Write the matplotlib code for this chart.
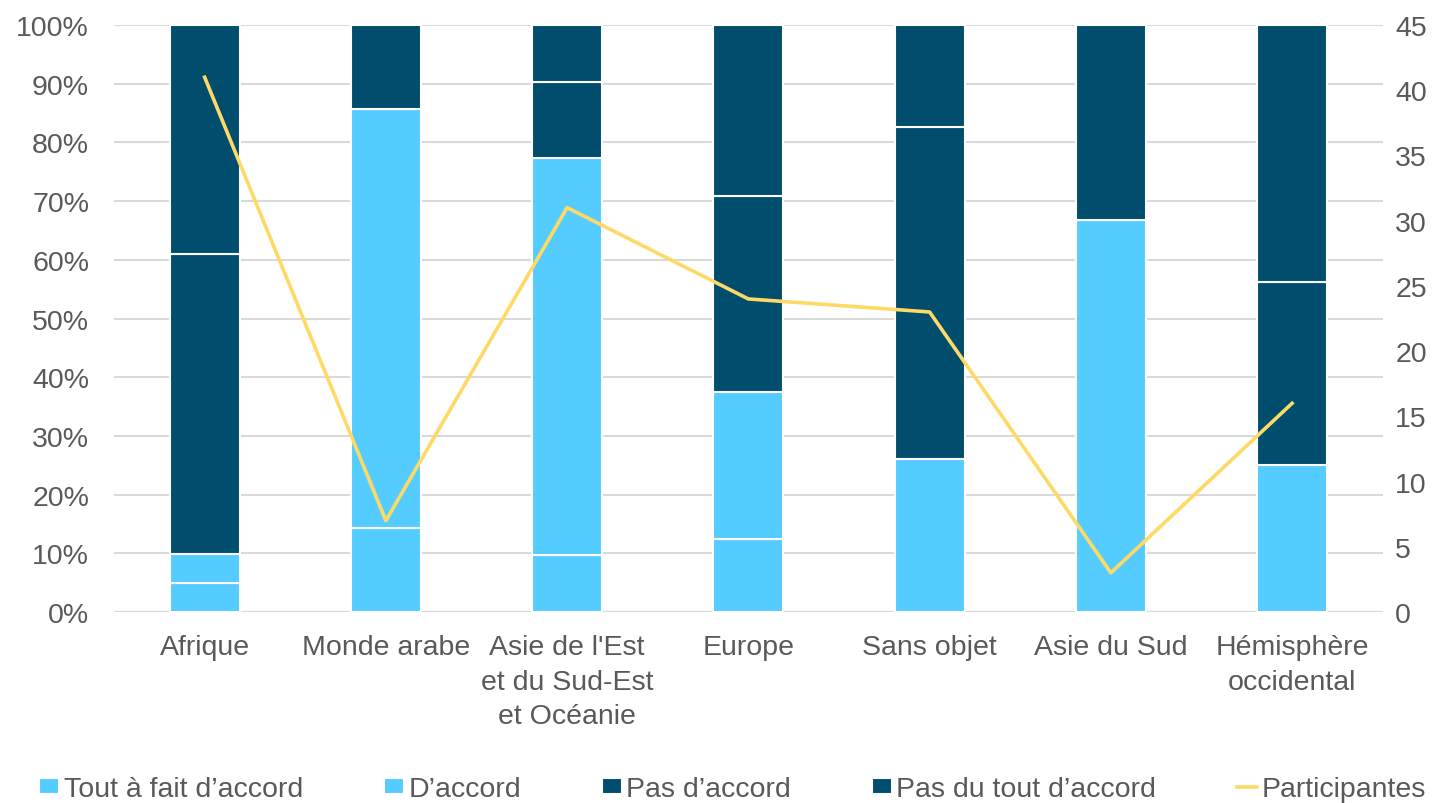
import numpy as np
import matplotlib.pyplot as plt
from matplotlib.ticker import FuncFormatter, MultipleLocator

plt.rcParams['font.family'] = ['Liberation Sans', 'DejaVu Sans']

regions = ["Afrique", "Monde arabe", "Asie de l'Est\net du Sud-Est\net Océanie",
           "Europe", "Sans objet", "Asie du Sud", "Hémisphère\noccidental"]

# shares in percent
tout_a_fait = [4.9, 14.3, 9.7, 12.5, 0.0, 0.0, 0.0]
d_accord = [4.9, 71.4, 67.7, 25.0, 26.1, 66.7, 25.0]
pas_d_accord = [51.2, 0.0, 12.9, 33.3, 56.5, 0.0, 31.25]
pas_du_tout = [39.0, 14.3, 9.7, 29.2, 17.4, 33.3, 43.75]

participantes = [41, 7, 31, 24, 23, 3, 16]

series = [
    ("Tout à fait d’accord", tout_a_fait, "#55CCFF"),
    ("D’accord", d_accord, "#55CCFF"),
    ("Pas d’accord", pas_d_accord, "#004D6E"),
    ("Pas du tout d’accord", pas_du_tout, "#004D6E"),
]

text_color = "#595959"
fs = 20.5

fig = plt.figure(figsize=(14.45, 8.04), dpi=100)
ax = fig.add_axes([0.0789, 0.2376, 0.878, 0.730])
x = np.arange(len(regions))

bottom = np.zeros(len(regions))
handles = []
for label, vals, color in series:
    vals = np.array(vals)
    b = ax.bar(x, vals, 0.386, bottom=bottom, color=color, edgecolor="white",
               linewidth=1.5, label=label, zorder=2)
    handles.append(b)
    bottom += vals

ax.set_xlim(-0.5, len(regions) - 0.5)
ax.set_ylim(0, 100)
ax.yaxis.set_major_locator(MultipleLocator(10))
ax.yaxis.set_major_formatter(FuncFormatter(lambda v, p: "%d%%" % v))
ax.grid(axis="y", color="#D9D9D9", linewidth=1.5, zorder=0)
ax.set_axisbelow(True)
ax.set_xticks(x)
ax.set_xticklabels(regions, fontsize=fs, color=text_color, linespacing=1.42)
ax.tick_params(axis="y", labelsize=fs, labelcolor=text_color, length=0, pad=18)
ax.tick_params(axis="x", length=0, pad=16)
for s in ax.spines.values():
    s.set_visible(False)
ax.axhline(0, color="#D9D9D9", linewidth=1.5, zorder=1)

ax2 = ax.twinx()
line, = ax2.plot(x, participantes, color="#FFD966", linewidth=2.6,
                 label="Participantes", zorder=3)
ax2.set_ylim(0, 45)
ax2.yaxis.set_major_locator(MultipleLocator(5))
ax2.tick_params(axis="y", labelsize=fs, labelcolor=text_color, length=0, pad=9)
for s in ax2.spines.values():
    s.set_visible(False)

fig.legend(handles + [line], [h.get_label() for h in handles] + ["Participantes"],
           loc="lower center", bbox_to_anchor=(0.507, -0.031), ncol=5, frameon=False,
           fontsize=fs, labelcolor=text_color, handlelength=0.7, handleheight=0.5,
           handletextpad=0.15, columnspacing=2.85)

fig.savefig("out.png", dpi=100)
